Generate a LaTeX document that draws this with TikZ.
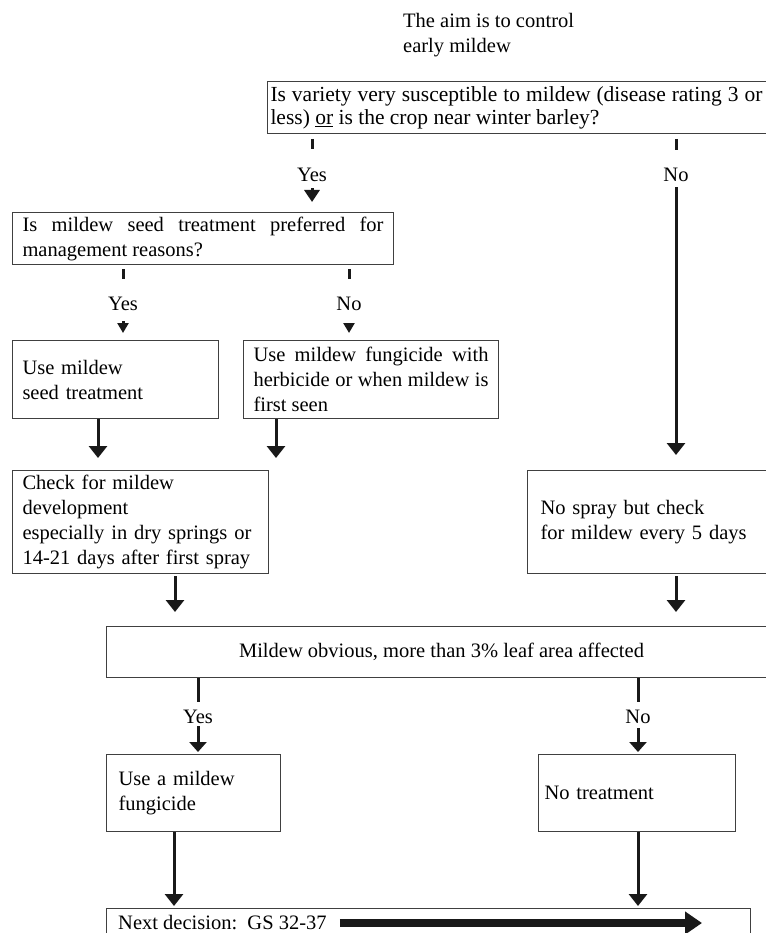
\documentclass[tikz,border=0pt]{standalone}
\usepackage{fontspec}
\setmainfont{Liberation Serif}
\usetikzlibrary{arrows.meta,calc}
\hyphenpenalty=10000
\exhyphenpenalty=10000
\tolerance=9999
\begin{document}
\begin{tikzpicture}[x=1pt,y=-1pt,
  font=\fontsize{20.5}{25}\selectfont,
  box/.style={draw=black!75, line width=1pt, anchor=north west, inner ysep=0pt},
  lbl/.style={inner sep=0pt},
  tick/.style={line width=3pt, black!90},
  stri/.style={line width=3pt, black!90, -{Triangle[length=10pt,width=11pt]}},
  tri/.style={line width=3pt, black!90, -{Triangle[length=12pt,width=15pt]}},
  arr/.style={line width=3pt, black!90, -{Triangle[length=12pt,width=18pt]}},
  marr/.style={line width=3pt, black!90, -{Triangle[length=10pt,width=17pt]}},
  bigarr/.style={line width=8pt, black!90, -{Triangle[length=17pt,width=22pt]}}
]
\useasboundingbox (0,0) rectangle (765,933);

% title
\node[lbl, anchor=north west, align=left] (aim) at (403,13) {The aim is to control\\early mildew};

% boxes
\node[box, inner xsep=3pt, minimum height=52pt] (q1) at (267,81)
  {\parbox{492pt}{\fontsize{21.5}{23}\selectfont Is variety very susceptible to mildew (disease rating 3 or\linebreak less) \underline{or} is the crop near winter barley?}\hspace*{12pt}};
\node[box, inner xsep=10pt, text width=361pt, minimum height=52pt, align=justify] (q2) at (12,212)
  {Is mildew seed treatment preferred for\linebreak management reasons?};
\node[box, inner xsep=10pt, text width=186pt, minimum height=78pt, align=left] (a) at (12,340)
  {Use mildew\\seed treatment};
\node[box, inner xsep=10pt, text width=235pt, minimum height=78pt, align=justify] (b) at (243,340)
  {Use mildew fungicide with\linebreak herbicide or when mildew is\linebreak first seen};
\node[box, inner xsep=10pt, text width=236pt, minimum height=103pt, align=left] (c) at (12,470)
  {Check for mildew\\development\\especially in dry springs or\\14-21 days after first spray};
\node[box, inner xsep=13pt, text width=230pt, minimum height=103pt, align=left] (d) at (527,470)
  {No spray but check\\for mildew every 5 days};
\node[box, inner xsep=10pt, minimum width=670pt, minimum height=51pt, align=center] (q3) at (106,626)
  {Mildew obvious, more than 3\% leaf area affected};
\node[box, inner xsep=12pt, text width=150pt, minimum height=77pt, align=left] (e) at (106,754)
  {Use a mildew\\fungicide};
\node[box, inner xsep=6pt, text width=185pt, minimum height=77pt, align=left] (f) at (538,754)
  {No treatment};
\node[box, minimum width=644pt, minimum height=40pt] (nd) at (106,908) {};
\node[lbl, anchor=west] (ndt) at (118,923) {Next decision:\ \ GS 32-37};

% labels
\node[lbl] (y1) at (312,175) {Yes};
\node[lbl] (n1) at (676,175) {No};
\node[lbl] (y2) at (123,304) {Yes};
\node[lbl] (n2) at (349,304) {No};
\node[lbl] (y3) at (198,717) {Yes};
\node[lbl] (n3) at (638,717) {No};

% helper coordinates
\coordinate (ax) at (98,0);
\coordinate (bx) at (276,458);
\coordinate (cx) at (175,0);
\coordinate (ex) at (174,0);
\coordinate (ndx) at (702,0);

% connectors from q1
\draw[tick] ($(q1.south -| y1)+(0,5)$) -- ++(0,10);
\draw[tri, shorten <=6pt, shorten >=10pt] (y1.south) -- (y1.south |- q2.north);
\draw[tick] ($(q1.south -| n1)+(0,5)$) -- ++(0,11);
\draw[arr, shorten <=5pt, shorten >=15pt] (n1.south) -- (n1.south |- d.north);

% connectors from q2
\draw[tick] ($(q2.south -| y2)+(0,4)$) -- ++(0,10);
\draw[stri, shorten <=10pt, shorten >=7pt] (y2.south) -- (y2.south |- a.north);
\draw[tick] ($(q2.south -| n2)+(0,4)$) -- ++(0,10);
\draw[stri, shorten <=12pt, shorten >=7pt] (n2.south) -- (n2.south |- b.north);

% to check box
\draw[arr, shorten >=12pt] (a.south -| ax) -- (ax |- c.north);
\draw[arr] (b.south -| bx) -- (bx);

% to q3
\draw[arr, shorten <=2pt, shorten >=14pt] (c.south -| cx) -- (cx |- q3.north);
\draw[arr, shorten <=2pt, shorten >=14pt] (d.south -| n1) -- (n1 |- q3.north);

% from q3
\draw[tick] (q3.south -| y3) -- ++(0,24);
\draw[marr, shorten <=2pt, shorten >=2pt] (y3.south) -- (y3.south |- e.north);
\draw[tick] (q3.south -| n3) -- ++(0,24);
\draw[marr, shorten <=4pt, shorten >=2pt] (n3.south) -- (n3.south |- f.north);

% to next decision
\draw[arr, shorten >=2pt] (e.south -| ex) -- (ex |- nd.north);
\draw[arr, shorten >=2pt] (f.south -| n3) -- (n3 |- nd.north);
\draw[bigarr, shorten <=13pt] (ndt.east) -- (ndt.east -| ndx);
\end{tikzpicture}
\end{document}
